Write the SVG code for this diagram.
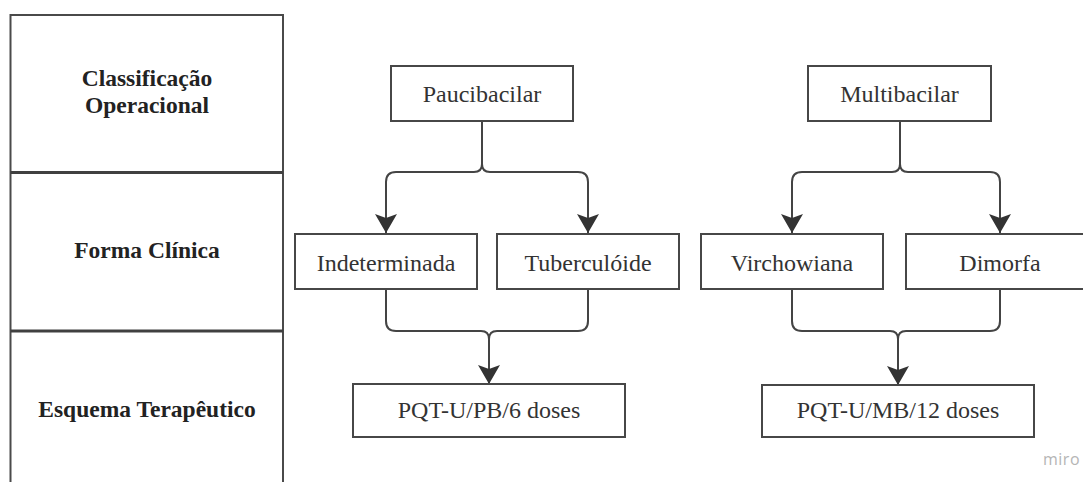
<svg xmlns="http://www.w3.org/2000/svg" width="1083" height="482" viewBox="0 0 1083 482">
<style>
.box{fill:#fff;stroke:#474747;stroke-width:2}
.lbl{font-family:"Liberation Serif","Times New Roman",serif;font-size:24px;fill:#333;text-anchor:middle}
.hdr{font-family:"Liberation Serif","Times New Roman",serif;font-size:23.5px;font-weight:bold;fill:#222;text-anchor:middle}
.conn{fill:none;stroke:#444;stroke-width:2}
.tbl{fill:none;stroke:#4a4a4a;stroke-width:2}
.div{stroke:#404040;stroke-width:3}
</style>
<defs>
<marker id="arr" markerUnits="userSpaceOnUse" markerWidth="24" markerHeight="26" viewBox="-20 -13 22 26" refX="0" refY="0" orient="auto">
<path d="M0,0 L-19,-11 L-15,0 L-19,11 Z" fill="#333"/>
</marker>
</defs>
<rect width="1083" height="482" fill="#fff"/>
<g id="table">
<rect class="tbl" x="10.5" y="15" width="272.5" height="480"/>
<line class="div" x1="10.5" y1="172.5" x2="283" y2="172.5"/>
<line class="div" x1="10.5" y1="331" x2="283" y2="331"/>
<text class="hdr" x="147" y="86">Classificação</text>
<text class="hdr" x="147" y="113">Operacional</text>
<text class="hdr" x="147" y="258">Forma Clínica</text>
<text class="hdr" x="147" y="417">Esquema Terapêutico</text>
</g>
<g id="connectors">
<path class="conn" d="M482,121 V164 Q482,172 474,172 H396 Q386,172 386,182 V233" marker-end="url(#arr)"/>
<path class="conn" d="M482,164 Q482,172 490,172 H578 Q588,172 588,182 V233" marker-end="url(#arr)"/>
<path class="conn" d="M386,289 V321 Q386,331 396,331 H481 Q489,331 489,339 V384" marker-end="url(#arr)"/>
<path class="conn" d="M588,289 V321 Q588,331 578,331 H497 Q489,331 489,339"/>
<path class="conn" d="M900,121 V164 Q900,172 892,172 H802 Q792,172 792,182 V233" marker-end="url(#arr)"/>
<path class="conn" d="M900,164 Q900,172 908,172 H990 Q1000,172 1000,182 V233" marker-end="url(#arr)"/>
<path class="conn" d="M792,289 V321 Q792,331 802,331 H890 Q898,331 898,339 V385" marker-end="url(#arr)"/>
<path class="conn" d="M1000,289 V321 Q1000,331 990,331 H906 Q898,331 898,339"/>
</g>
<g id="paucibacilar">
<rect class="box" x="391" y="66" width="182" height="55"/>
<text class="lbl" x="482" y="102">Paucibacilar</text>
</g>
<g id="multibacilar">
<rect class="box" x="808" y="66" width="183" height="55"/>
<text class="lbl" x="899.5" y="102">Multibacilar</text>
</g>
<g id="indeterminada">
<rect class="box" x="295" y="234" width="182" height="55"/>
<text class="lbl" x="386" y="271">Indeterminada</text>
</g>
<g id="tuberculoide">
<rect class="box" x="497" y="234" width="182" height="55"/>
<text class="lbl" x="588" y="271">Tuberculóide</text>
</g>
<g id="virchowiana">
<rect class="box" x="701" y="234" width="182" height="55"/>
<text class="lbl" x="792" y="271">Virchowiana</text>
</g>
<g id="dimorfa">
<rect class="box" x="906" y="234" width="190" height="55"/>
<text class="lbl" x="1000" y="271">Dimorfa</text>
</g>
<g id="pqt-pb">
<rect class="box" x="353" y="384" width="272" height="53"/>
<text class="lbl" x="489" y="418">PQT-U/PB/6 doses</text>
</g>
<g id="pqt-mb">
<rect class="box" x="762" y="385" width="272" height="52"/>
<text class="lbl" x="898" y="418">PQT-U/MB/12 doses</text>
</g>
<text x="1080" y="465" text-anchor="end" font-family="'Open Sans','Noto Sans',sans-serif" font-size="16" fill="#b5b5b5" letter-spacing="0.5">miro</text>
</svg>
